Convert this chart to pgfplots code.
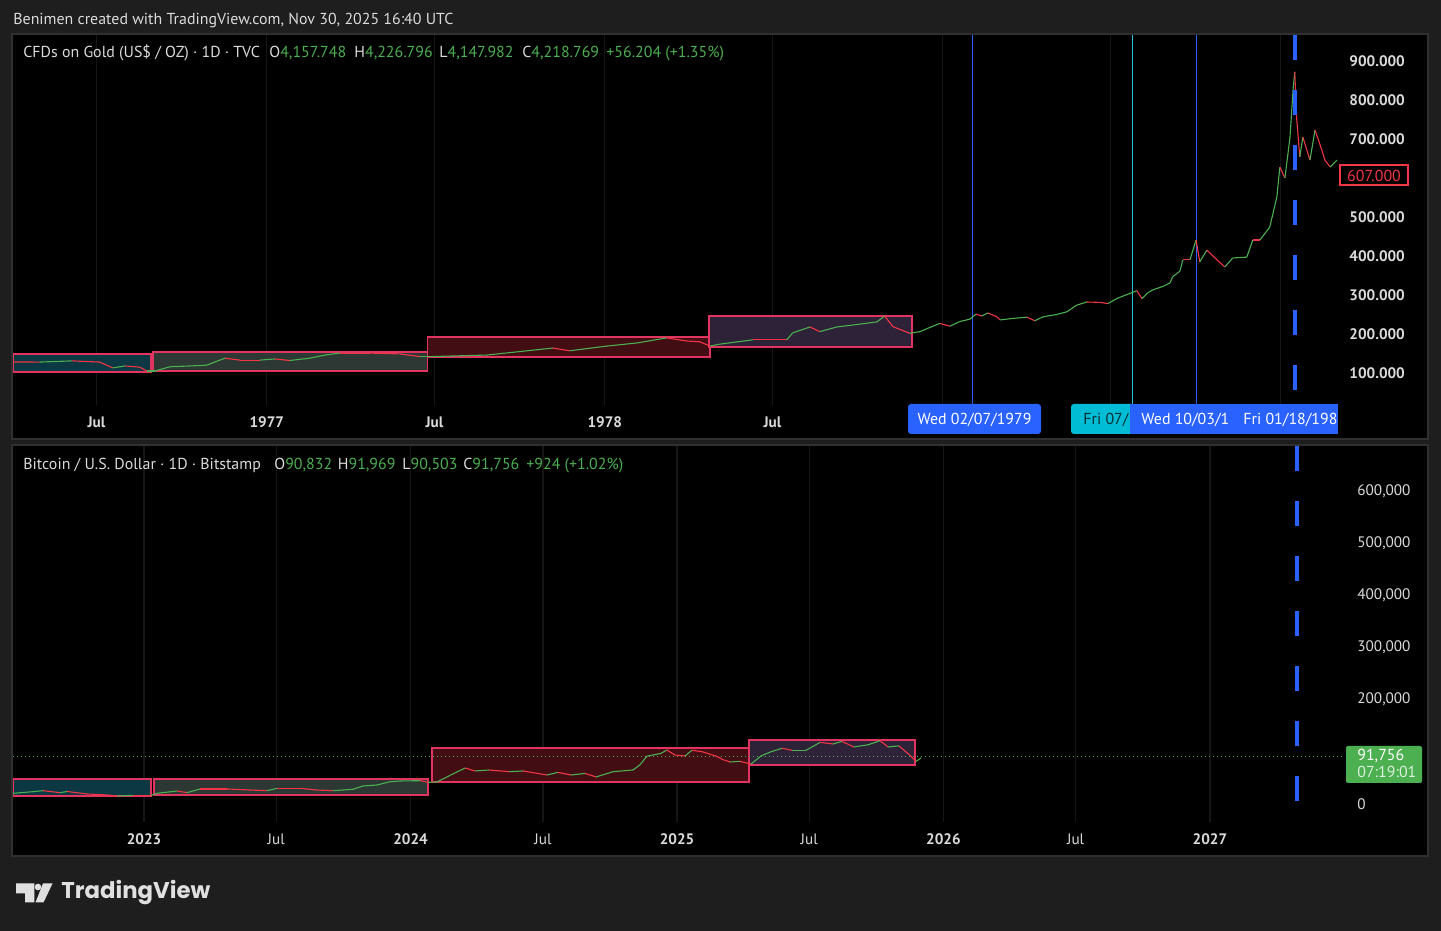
\documentclass[border=0pt]{standalone}
\usepackage{fontspec}
\setmainfont{PT Sans}
\newfontfamily\logofont{Poppins}
\usepackage{pgfplots}
\pgfplotsset{compat=1.18}
\usepackage{pgfplotstable}

\definecolor{frame}{RGB}{30,30,30}
\definecolor{paneledge}{RGB}{48,48,48}
\definecolor{tvwhite}{RGB}{219,219,219}
\definecolor{tvgreen}{RGB}{76,175,80}
\definecolor{tvred}{RGB}{242,54,69}
\definecolor{tvblue}{RGB}{41,98,255}
\definecolor{tvcyan}{RGB}{0,188,212}
\definecolor{linecyan}{RGB}{38,198,218}
\definecolor{gridc}{RGB}{22,22,22}
\definecolor{boxedge}{RGB}{226,52,96}
\definecolor{fillA}{RGB}{11,56,66}
\definecolor{fillB}{RGB}{45,56,53}
\definecolor{fillC}{RGB}{66,14,20}
\definecolor{fillD}{RGB}{46,34,56}

% gold 1976-1980 (t = decimal year, c = 1 up / 0 down)
\pgfplotstableread{
t v c
1976.249 128.2 0
1976.328 128.0 1
1976.423 131.0 0
1976.506 128.0 0
1976.544 113.0 1
1976.580 118.0 0
1976.624 115.0 0
1976.645 105.0 1
1976.669 105.0 1
1976.713 116.0 1
1976.772 118.0 1
1976.822 120.0 1
1976.876 138.0 0
1976.920 133.0 0
1976.979 133.0 1
1977.024 136.0 0
1977.068 132.0 1
1977.127 138.0 1
1977.172 146.0 1
1977.216 151.0 0
1977.305 151.0 0
1977.393 149.0 0
1977.453 142.0 1
1977.482 142.0 1
1977.651 146.0 1
1977.749 155.0 1
1977.846 164.0 0
1977.896 157.0 1
1978.006 169.0 1
1978.095 177.0 1
1978.183 190.0 0
1978.243 182.0 0
1978.281 180.0 0
1978.311 169.0 1
1978.340 174.0 1
1978.438 185.0 0
1978.538 185.0 1
1978.556 203.0 1
1978.607 218.0 0
1978.636 206.0 1
1978.686 218.0 1
1978.734 223.0 1
1978.805 231.0 1
1978.828 246.0 0
1978.852 219.0 0
1978.902 201.7 1
1978.932 206.0 1
1978.962 217.0 1
1978.991 227.0 0
1979.021 220.0 1
1979.050 232.0 1
1979.080 238.0 1
1979.098 251.0 0
1979.115 246.0 1
1979.133 254.0 0
1979.160 244.0 0
1979.169 236.0 1
1979.207 240.0 1
1979.249 243.0 0
1979.272 234.0 1
1979.296 244.0 1
1979.337 250.0 1
1979.367 257.0 1
1979.396 274.0 1
1979.426 282.0 0
1979.464 281.0 0
1979.488 278.0 1
1979.515 291.0 1
1979.559 306.0 1
1979.574 311.0 0
1979.589 291.0 1
1979.607 306.0 1
1979.621 313.0 1
1979.651 322.0 1
1979.672 331.0 1
1979.680 347.0 1
1979.701 361.0 1
1979.710 390.0 0
1979.731 390.0 1
1979.749 441.0 0
1979.760 385.0 1
1979.781 415.0 0
1979.811 390.0 0
1979.834 372.0 1
1979.858 395.0 1
1979.899 397.0 1
1979.917 441.0 0
1979.938 441.0 1
1979.967 474.0 1
1979.988 551.0 1
1979.997 628.0 0
1980.012 600.0 1
1980.027 705.0 1
1980.036 826.0 1
1980.041 872.0 0
1980.047 749.0 0
1980.056 654.0 1
1980.065 705.0 0
1980.086 646.0 1
1980.101 723.0 0
1980.121 672.0 0
1980.130 646.0 0
1980.146 628.0 1
1980.166 646.0 1
}\gold

% bitcoin 2022-2025
\pgfplotstableread{
t v c
2022.508 20500 1
2022.583 23600 1
2022.621 25500 0
2022.685 21700 1
2022.711 24000 0
2022.786 19200 0
2022.861 17300 0
2022.899 15300 1
2022.959 16700 0
2023.026 16700 1
2023.049 20500 1
2023.124 24900 0
2023.161 21700 1
2023.210 28800 0
2023.311 28800 0
2023.398 26800 0
2023.462 25500 1
2023.499 30100 0
2023.585 30100 0
2023.649 26800 0
2023.709 25500 1
2023.784 28200 1
2023.822 34500 1
2023.874 36400 1
2023.923 42700 1
2023.961 44100 1
2024.036 44700 0
2024.066 41600 1
2024.099 42200 1
2024.163 58700 1
2024.205 69000 0
2024.242 63300 1
2024.295 65200 0
2024.370 61900 1
2024.422 63300 0
2024.512 55600 1
2024.553 60600 0
2024.602 55600 1
2024.655 58700 0
2024.696 51800 1
2024.760 61900 1
2024.835 65200 1
2024.861 75100 1
2024.887 91600 1
2024.940 97000 1
2024.962 103500 0
2024.992 93900 0
2025.030 92000 1
2025.056 102900 0
2025.094 100200 0
2025.146 92000 0
2025.173 84900 0
2025.199 80500 1
2025.236 81700 0
2025.278 76700 1
2025.315 92000 1
2025.353 100200 1
2025.394 106800 0
2025.432 102900 1
2025.484 102900 1
2025.537 118100 0
2025.585 115000 1
2025.619 120000 0
2025.664 109300 1
2025.717 113500 1
2025.762 121300 0
2025.792 109300 1
2025.833 111400 0
2025.871 94900 0
2025.897 81700 1
2025.916 88400 1
}\btc

\pgfplotsset{
  tvpanel/.style={
    scale only axis, anchor=south west,
    axis line style={draw=none}, tick style={draw=none},
    xmajorgrids, grid style={gridc, line width=0.6pt},
    scaled y ticks=false, scaled x ticks=false,
    yticklabel pos=right,
    tick label style={font=\fontsize{7.6}{9}\selectfont, text=tvwhite},
    xticklabel style={anchor=center, yshift=-8.5pt},
    yticklabel style={anchor=west, inner sep=0pt},
    colormap={candle}{color(0)=(tvred) color(1)=(tvgreen)},
    point meta min=0, point meta max=1,
  },
  candles/.style={mesh, shader=flat corner, line width=0.55pt, point meta=\thisrow{c}},
  zone/.style={draw=boxedge, line width=0.75pt},
}

\begin{document}
\begin{tikzpicture}
% layout in screen pixels: (x, y) from the top-left corner, 1 px = 0.5 pt
\begin{scope}[shift={(0pt,465.5pt)}, x=0.5pt, y=-0.5pt]
\fill[frame] (0,0) rectangle (1441,931);
\fill[black] (13,35) rectangle (1427,438);
\fill[black] (13,446) rectangle (1427,855);
\draw[paneledge, line width=1pt] (12,34) rectangle (1428,439);
\draw[paneledge, line width=1pt] (12,445) rectangle (1428,856);
\end{scope}

% ---- gold, top panel
\begin{axis}[tvpanel,
  at={(6.5pt,263pt)}, width=662.5pt, height=185pt,
  xmin=1976.249, xmax=1980.169, ymin=17.95, ymax=966.67,
  xtick={1976.496,1977,1977.496,1978,1978.496,1979,1979.496,1980},
  xticklabels={\textbf{Jul},\textbf{1977},\textbf{Jul},\textbf{1978},\textbf{Jul},,,},
  ytick={100,200,300,400,500,700,800,900},
  yticklabels={\textbf{100.000},\textbf{200.000},\textbf{300.000},\textbf{400.000},\textbf{500.000},\textbf{700.000},\textbf{800.000},\textbf{900.000}},
  yticklabel style={xshift=5.5pt},
]
\addplot[zone, fill=fillA] coordinates {(1976.249,102.6) (1976.657,102.6) (1976.657,148.7) (1976.249,148.7)} -- cycle;
\addplot[zone, fill=fillB] coordinates {(1976.663,105) (1977.476,105) (1977.476,154) (1976.663,154)} -- cycle;
\addplot[zone, fill=fillC] coordinates {(1977.476,141) (1978.311,141) (1978.311,192) (1977.476,192)} -- cycle;
\addplot[zone, fill=fillD] coordinates {(1978.308,167) (1978.908,167) (1978.908,246) (1978.308,246)} -- cycle;
\addplot[tvblue, line width=0.5pt] coordinates {(1979.089,17.95) (1979.089,966.67)};
\addplot[linecyan, line width=0.5pt] coordinates {(1979.562,17.95) (1979.562,966.67)};
\addplot[tvblue, line width=0.5pt] coordinates {(1979.749,17.95) (1979.749,966.67)};
\addplot[candles] table[x=t, y=v] {\gold};
\addplot[tvblue, line width=2.25pt, dash pattern=on 12.5pt off 15pt] coordinates {(1980.041,966.67) (1980.041,17.95)};
\end{axis}

% ---- bitcoin, bottom panel
\begin{axis}[tvpanel,
  at={(6.5pt,54.5pt)}, width=666pt, height=188pt,
  xmin=2022.508, xmax=2027.507, ymin=-34502, ymax=686218,
  xtick={2023,2023.496,2024,2024.497,2025,2025.496,2026,2026.496,2027},
  xticklabels={\textbf{2023},Jul,\textbf{2024},Jul,\textbf{2025},Jul,\textbf{2026},Jul,\textbf{2027}},
  ytick={0,200000,300000,400000,500000,600000},
  yticklabels={0,{200,000},{300,000},{400,000},{500,000},{600,000}},
  yticklabel style={xshift=6pt},
]
\addplot[zone, fill=fillA] coordinates {(2022.508,15300) (2023.026,15300) (2023.026,47900) (2022.508,47900)} -- cycle;
\addplot[zone, fill=fillB] coordinates {(2023.038,17200) (2024.066,17200) (2024.066,47900) (2023.038,47900)} -- cycle;
\addplot[zone, fill=fillC] coordinates {(2024.081,42200) (2025.270,42200) (2025.270,107300) (2024.081,107300)} -- cycle;
\addplot[zone, fill=fillD] coordinates {(2025.270,74800) (2025.893,74800) (2025.893,122700) (2025.270,122700)} -- cycle;
\addplot[tvgreen, line width=0.5pt, dash pattern=on 0.5pt off 1.5pt] coordinates {(2022.508,91756) (2027.507,91756)};
\addplot[candles] table[x=t, y=v] {\btc};
\addplot[tvblue, line width=2.25pt, dash pattern=on 12.5pt off 15pt] coordinates {(2027.326,686218) (2027.326,-34502)};
\end{axis}

\begin{scope}[shift={(0pt,465.5pt)}, x=0.5pt, y=-0.5pt,
  every node/.style={inner sep=0pt, font=\fontsize{7.95}{9}\selectfont, text=tvwhite}]
\node[anchor=base west] at (13,24.5) {Benimen created with TradingView.com, Nov 30, 2025 16:40 UTC};
\node[anchor=base west] at (23,58) {CFDs on Gold (US\$ / OZ) · 1D · TVC};
\node[anchor=base west] at (269,58) {O\textcolor{tvgreen}{4,157.748}};
\node[anchor=base west] at (354,58) {H\textcolor{tvgreen}{4,226.796}};
\node[anchor=base west] at (439,58) {L\textcolor{tvgreen}{4,147.982}};
\node[anchor=base west] at (522,58) {C\textcolor{tvgreen}{4,218.769}};
\node[anchor=base west] at (606,58) {\textcolor{tvgreen}{+56.204 (+1.35\%)}};
\node[anchor=base west] at (23,469.5) {Bitcoin / U.S. Dollar · 1D · Bitstamp};
\node[anchor=base west] at (274,469.5) {O\textcolor{tvgreen}{90,832}};
\node[anchor=base west] at (337.5,469.5) {H\textcolor{tvgreen}{91,969}};
\node[anchor=base west] at (402,469.5) {L\textcolor{tvgreen}{90,503}};
\node[anchor=base west] at (463,469.5) {C\textcolor{tvgreen}{91,756}};
\node[anchor=base west] at (526,469.5) {\textcolor{tvgreen}{+924 (+1.02\%)}};

% last price of the upper pane
\fill[black] (1340,165) rectangle (1408,185);
\draw[tvred, line width=0.6pt] (1340,165) rectangle (1408,185);
\node[text=tvred] at (1374,175.5) {607.000};

% last price of the lower pane
\fill[tvgreen, rounded corners=1pt] (1346,746) rectangle (1422,783);
\node[anchor=base west, text=white] at (1357,761) {91,756};
\node[anchor=base west, text=white!80!tvgreen] at (1357,778) {07:19:01};

% crosshair date labels of the upper time scale
\fill[tvblue, rounded corners=1.5pt] (908,404) rectangle (1041,434);
\node[text=white] at (974.5,420) {Wed 02/07/1979};
\fill[tvcyan, rounded corners=1.5pt] (1071,404) rectangle (1135,434);
\fill[tvblue] (1130,404) rectangle (1338,434);
\node[anchor=west, text=black!75!tvcyan] at (1083,420) {Fri 07/};
\node[anchor=west, text=white] at (1141,420) {Wed 10/03/1};
\node[anchor=west, text=white] at (1243,420) {Fri 01/18/198};

% TradingView mark
\fill[white!88!black] (16,883.5) -- (34.3,883.5) -- (34.3,902.5) -- (25,902.5) -- (25,893.5) -- (16,893.5) -- cycle;
\fill[white!88!black] (38,887) circle (3.3);
\fill[white!88!black] (43,883.5) -- (52.5,883.5) -- (43.5,902.5) -- (35.5,902.5) -- cycle;
\node[anchor=west, text=white!88!black, font=\logofont\bfseries\fontsize{11.4}{13}\selectfont] at (61,893) {TradingView};
\end{scope}
\end{tikzpicture}
\end{document}
